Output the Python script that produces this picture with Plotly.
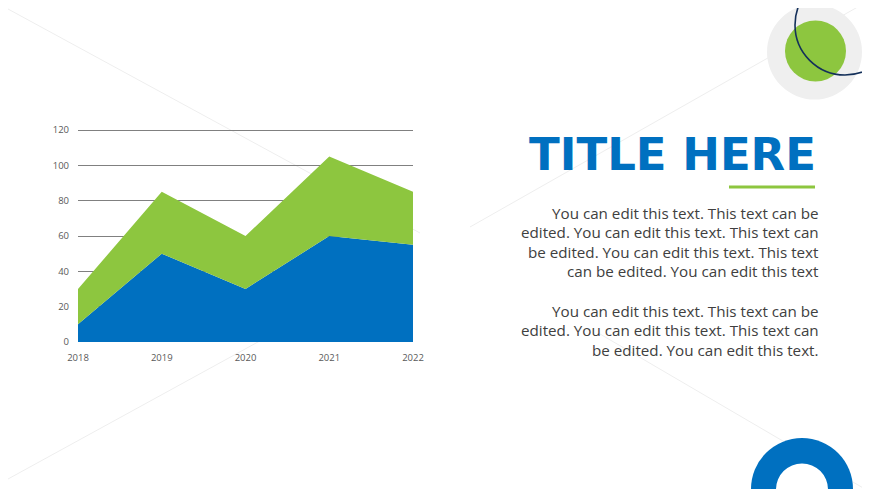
import plotly.graph_objects as go

W, H = 870, 489
OX, OY = 8, 8   # the page body margin pushes the figure 8px right and down

years = [2018, 2019, 2020, 2021, 2022]
series_blue = [10, 50, 30, 60, 55]
series_green = [20, 35, 30, 45, 30]   # stacked on top of blue
y_ticks = [0, 20, 40, 60, 80, 100, 120]

title_text = "TITLE HERE"
para_1 = ["You can edit this text. This text can be",
          "edited. You can edit this text. This text can",
          "be edited. You can edit this text. This text",
          "can be edited. You can edit this text"]
para_2 = ["You can edit this text. This text can be",
          "edited. You can edit this text. This text can",
          "be edited. You can edit this text."]

BLUE = "#0070c0"
GREEN = "#8dc63f"

FW, FH = W - OX, H - OY


def px(x):
    return (x - OX) / FW


def py(y):
    return 1 - (y - OY) / FH


def circle(cx, cy, r, **kw):
    return dict(type="circle", xref="paper", yref="paper",
                x0=px(cx - r), x1=px(cx + r), y0=py(cy + r), y1=py(cy - r), **kw)


def line(x0, y0, x1, y1, **kw):
    return dict(type="line", xref="paper", yref="paper",
                x0=px(x0), y0=py(y0), x1=px(x1), y1=py(y1), **kw)


fig = go.Figure()
fig.add_trace(go.Scatter(x=years, y=series_blue, stackgroup="one", mode="none",
                         fillcolor=BLUE, hoverinfo="x+y"))
fig.add_trace(go.Scatter(x=years, y=series_green, stackgroup="one", mode="none",
                         fillcolor=GREEN, hoverinfo="x+y"))

faint = dict(color="#eeeeee", width=1)
shapes = [
    line(8, 9, 420, 233, line=faint, layer="below"),
    line(8, 479, 340, 297, line=faint, layer="below"),
    line(470, 227, 870, 0, line=faint, layer="below"),
    line(600, 334, 870, 492, line=faint, layer="below"),
    # top-right decoration
    circle(814.5, 52, 47.5, fillcolor="#efefef", line=dict(width=0), layer="below"),
    circle(815.5, 51, 30.5, fillcolor=GREEN, line=dict(width=0)),
    circle(845, 25, 50, line=dict(color="#14305a", width=1.6)),
    # bottom-right ring
    circle(802, 489, 51, fillcolor=BLUE, line=dict(width=0)),
    circle(802, 489.5, 26, fillcolor="white", line=dict(width=0)),
    # underline below title
    line(729, 187, 815, 187, line=dict(color=GREEN, width=3)),
]

body_font = dict(family="Open Sans, Noto Sans, sans-serif", size=15.2, color="#404040")
annotations = [
    dict(text=title_text, x=px(818), y=py(154), xref="paper", yref="paper",
         xanchor="right", yanchor="middle", showarrow=False,
         font=dict(family="DejaVu Sans, sans-serif", size=45,
                   color=BLUE, weight="bold")),
]
for start, lines in [(212.7, para_1), (310.7, para_2)]:
    for i, t in enumerate(lines):
        annotations.append(dict(text=t, x=px(821), y=py(start + i * 19.5),
                                xref="paper", yref="paper", xanchor="right",
                                yanchor="middle", showarrow=False, font=body_font))

y_top = 121
tick_font = dict(family="Open Sans, Noto Sans, sans-serif", size=9.5, color="#595959")
fig.update_layout(
    width=FW, height=FH,
    margin=dict(l=0, r=0, t=0, b=0),
    paper_bgcolor="white", plot_bgcolor="rgba(0,0,0,0)",
    showlegend=False,
    xaxis=dict(domain=[px(78), px(413)], range=[2018, 2022], automargin=False,
               tickmode="array", tickvals=years, ticktext=[str(y) for y in years],
               showgrid=False, zeroline=False, showline=False, ticks="",
               tickfont=tick_font, ticklabelstandoff=8),
    yaxis=dict(domain=[py(342), py(342 - y_top * 212 / 120)], range=[0, y_top],
               automargin=False,
               tickmode="array", tickvals=y_ticks,
               showgrid=True, gridcolor="#808080", gridwidth=1,
               zeroline=False, showline=False, ticks="",
               tickfont=tick_font, ticklabelstandoff=8),
    shapes=shapes,
    annotations=annotations,
)

fig.write_html("out.html")
